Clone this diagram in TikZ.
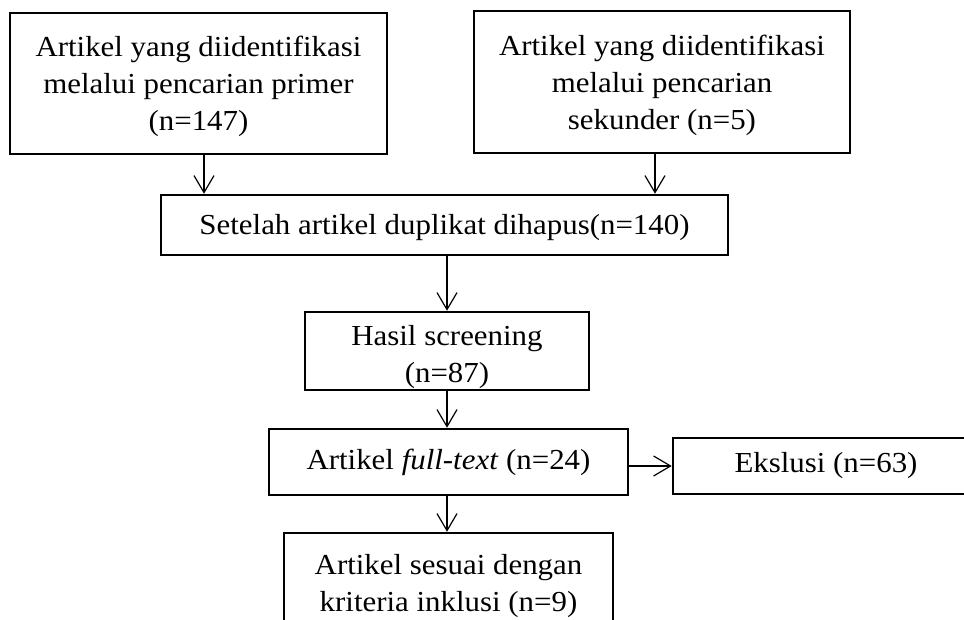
\documentclass[tikz,border=0pt]{standalone}
\usepackage{fontspec}
\setmainfont{Liberation Serif}[FakeStretch=1.065]
\usetikzlibrary{arrows.meta}
\newcommand{\upstrut}[1]{\rule{0pt}{#1}}
\begin{document}
\begin{tikzpicture}[x=1pt,y=-1pt,
  box/.style={draw, line width=2.5pt, align=center, inner sep=0pt, font=\fontsize{29}{37}\selectfont},
  arr/.style={line width=1.2pt, -{Straight Barb[length=17pt,width=20pt]}}]
\useasboundingbox (0,0) rectangle (964,619);
\node[box, minimum width=377pt, minimum height=141pt] (b1) at (198.5,83.5)
  {\upstrut{26pt}Artikel yang diidentifikasi\\melalui pencarian primer\\(n=147)};
\node[box, minimum width=376pt, minimum height=142pt] (b2) at (662,82)
  {\upstrut{28pt}Artikel yang diidentifikasi\\melalui pencarian\\sekunder (n=5)};
\node[box, minimum width=567pt, minimum height=60pt] (b3) at (444.5,225)
  {\upstrut{26pt}Setelah artikel duplikat dihapus(n=140)};
\node[box, minimum width=284pt, minimum height=78pt] (b4) at (447,351)
  {\upstrut{32pt}Hasil screening\\(n=87)};
\node[box, minimum width=359pt, minimum height=66pt] (b5) at (448.5,462)
  {Artikel \textit{full-text} (n=24)};
\node[box, minimum width=300pt, minimum height=56pt] (b6) at (823,466)
  {\hspace*{6pt}Ekslusi (n=63)};
\node[box, minimum width=329pt, minimum height=104pt] (b7) at (448.5,585)
  {\upstrut{23pt}Artikel sesuai dengan\\kriteria inklusi (n=9)};
\draw[arr] ([xshift=5.5pt]b1.south) -- ([xshift=5.5pt]b1.south |- b3.north);
\draw[arr] ([xshift=-7pt]b2.south) -- ([xshift=-7pt]b2.south |- b3.north);
\draw[arr] (b3.south -| b4.north) -- (b4.north);
\draw[arr] (b4.south) -- (b4.south |- b5.north);
\draw[arr] (b5.east |- b6.west) -- (b6.west);
\draw[arr] (b5.south -| b4.south) -- (b4.south |- b7.north);
\end{tikzpicture}
\end{document}
